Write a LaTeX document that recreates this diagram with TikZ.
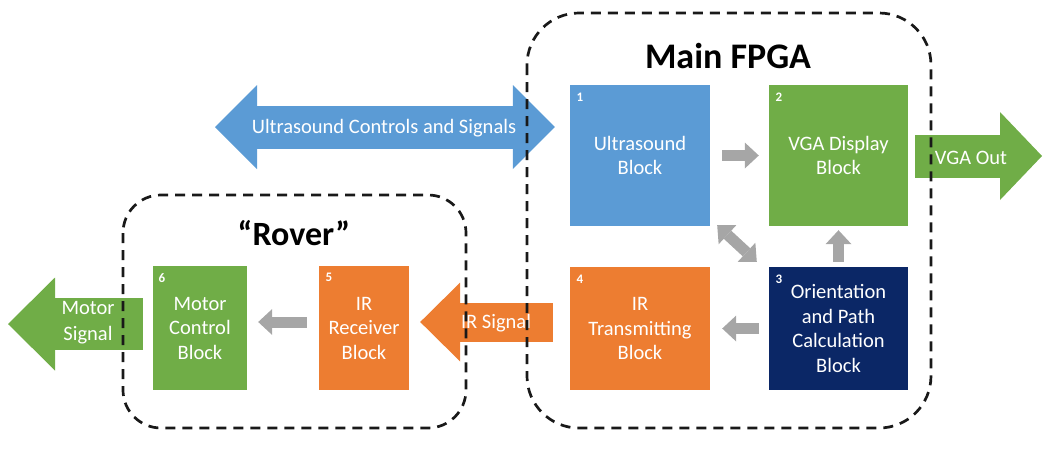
\documentclass[tikz,border=0pt]{standalone}
\usepackage{fontspec}
\setmainfont{Carlito}
\usetikzlibrary{arrows.meta,calc}

\definecolor{usblue}{HTML}{5B9BD5}
\definecolor{grn}{HTML}{70AD47}
\definecolor{org}{HTML}{ED7D31}
\definecolor{navy}{HTML}{0B2766}
\definecolor{arrgray}{HTML}{A6A6A6}

\tikzset{
  block/.style={draw=none, inner sep=0pt, text=white, align=center,
    font=\fontsize{20.5}{24.5}\selectfont},
  numtag/.style={inner sep=0pt, text=white, font=\bfseries\fontsize{13}{13}\selectfont},
  ftext/.style={inner sep=0pt, text=white, align=center,
    font=\fontsize{20.5}{26}\selectfont},
  title/.style={inner sep=0pt, font=\bfseries\fontsize{36}{40}\selectfont},
  garrow/.style={draw=arrgray, line width=11pt, -{Triangle[width=26pt,length=14pt,line width=0pt]}},
  gdouble/.style={draw=arrgray, line width=11pt,
    {Triangle[width=26pt,length=14pt,line width=0pt]}-{Triangle[width=26pt,length=14pt,line width=0pt]}},
  dashbox/.style={draw=black!90, line width=2.7pt, dash pattern=on 10pt off 7pt},
}

\begin{document}
\begin{tikzpicture}[x=1pt,y=-1pt]
\useasboundingbox (0,0) rectangle (1045,459);

% functional blocks
\node[block, fill=usblue, minimum width=140pt, minimum height=141pt] (b1) at (640,155.5) {Ultrasound\\Block};
\node[block, fill=grn,    minimum width=139pt, minimum height=141pt] (b2) at (838.5,155.5) {VGA Display\\Block};
\node[block, fill=org,    minimum width=140pt, minimum height=123pt] (b4) at (640,328.5) {IR\\Transmitting\\Block};
\node[block, fill=navy,   minimum width=139pt, minimum height=123pt] (b3) at (838.5,328.5) {Orientation\\and Path\\Calculation\\Block};
\node[block, fill=grn,    minimum width=94pt,  minimum height=124pt] (b6) at (200,328) {Motor\\Control\\Block};
\node[block, fill=org,    minimum width=90pt,  minimum height=124pt] (b5) at (364,328) {IR\\Receiver\\Block};

% block numbers
\node[numtag] (n1) at ($(b1.north west)+(10,12)$) {1};
\node[numtag] (n2) at ($(b2.north west)+(10,12)$) {2};
\node[numtag] (n3) at ($(b3.north west)+(10,12)$) {3};
\node[numtag] (n4) at ($(b4.north west)+(10,12)$) {4};
\node[numtag] (n5) at ($(b5.north west)+(10,12)$) {5};
\node[numtag] (n6) at ($(b6.north west)+(9,12)$) {6};

% wide signal arrows
\coordinate (usL) at (215,127);
\draw[line width=43pt, usblue,
  {Triangle[width=84pt,length=42pt,line width=0pt]}-{Triangle[width=84pt,length=42pt,line width=0pt]}]
  (usL) -- ($(b1.west |- usL)+(-15,0)$);
\node[ftext] (ust) at (384,128) {Ultrasound Controls and Signals};

\coordinate (vgaEnd) at (1042,156);
\draw[line width=43pt, grn, -{Triangle[width=88pt,length=42pt,line width=0pt]}]
  ($(b2.east |- vgaEnd)+(7,0)$) -- (vgaEnd);
\node[ftext] (vgat) at (971,158) {VGA Out};

\coordinate (motEnd) at (8,324);
\draw[line width=52pt, grn, -{Triangle[width=93pt,length=47pt,line width=0pt]}]
  ($(b6.west |- motEnd)+(-10,0)$) -- (motEnd);
\node[ftext] (mott) at (88,323) {Motor\\Signal};

\coordinate (irT) at ($(b4.west)+(-17,-6.5)$);
\draw[line width=39pt, org, -{Triangle[width=79pt,length=40pt,line width=0pt]}]
  (irT) -- ($(b5.east |- irT)+(11,0)$);
\node[ftext] (irt) at (496,323) {IR Signal};

% internal data flow
\draw[garrow, shorten <=12pt, shorten >=10pt] (b1.east) -- (b2.west);
\draw[garrow, shorten <=5pt, shorten >=4pt] (b3.north) -- (b2.south);
\draw[garrow, shorten <=10pt, shorten >=12pt] (b3.west) -- (b4.east);
\draw[gdouble] ($(b1.south east)+(7,-1)$) -- ($(b3.north west)+(-12,-5)$);
\draw[garrow, shorten <=12pt, shorten >=11pt] ($(b5.west)+(0,-6)$) -- ($(b6.east)+(0,-6)$);

% enclosures
\draw[dashbox, rounded corners=52pt] (527,13) rectangle (931,428);
\draw[dashbox, rounded corners=38pt] (123,195) rectangle (466,428);

\node[title] (fpga) at (728,56) {Main FPGA};
\node[title, font=\bfseries\fontsize{34}{38}\selectfont] (rover) at (294,233) {“Rover”};
\end{tikzpicture}
\end{document}
